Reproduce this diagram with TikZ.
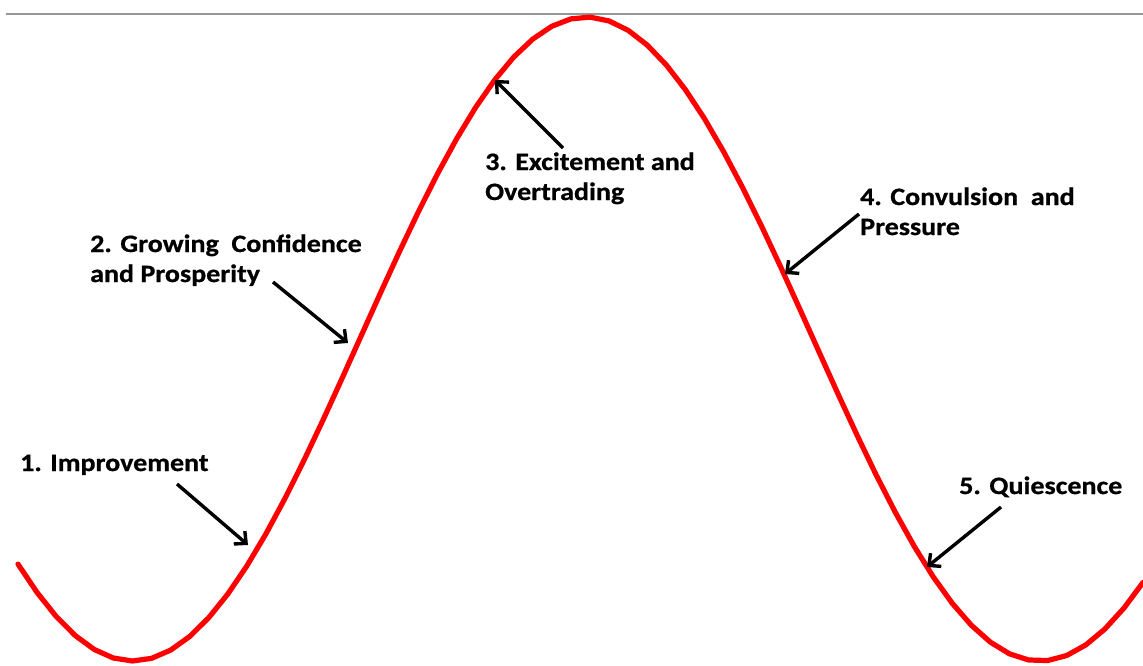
\documentclass[tikz,border=0pt]{standalone}
\usepackage{fontspec}
\setmainfont{Carlito}[FakeStretch=1.12, BoldFeatures={FakeBold=0.8}]
\usetikzlibrary{arrows.meta}
\definecolor{curvered}{RGB}{255,0,0}
\definecolor{rulegray}{RGB}{150,150,150}
\tikzset{
  lbl/.style={anchor=base west, align=left, inner sep=0pt, font=\bfseries\fontsize{25}{30}\selectfont},
  pointer/.style={draw=black, line width=3.4pt, -{Straight Barb[length=9pt,width=17pt,line width=3.4pt]}},
}
\begin{document}
\begin{tikzpicture}[x=1pt,y=-1pt]
\useasboundingbox (0,0) rectangle (1143,665);
\draw[rulegray, line width=1.6pt] (6,14) -- (1143,14);
\draw[curvered, line width=5.2pt, line join=round, line cap=round]
  plot[domain=18:1143, samples=60] (\x, {339+322*cos(0.396913*(\x-133))});
\node[lbl] (t1) at (20,471) {1. Improvement};
\node[lbl] (t2) at (90,282) {2. Growing\ \ Confidence\\and Prosperity};
\node[lbl] (t3) at (485,200) {3. Excitement and\\Overtrading};
\node[lbl] (t4) at (860,235) {4. Convulsion\ \ and\\Pressure};
\node[lbl] (t5) at (959,494) {5. Quiescence};
\coordinate (s1) at (177,484); \coordinate (e1) at (248,545);
\coordinate (s2) at (273,282); \coordinate (e2) at (348,343);
\coordinate (s3) at (563,148); \coordinate (e3) at (495,80);
\coordinate (s4) at (859,214); \coordinate (e4) at (785,274);
\coordinate (s5) at (1001,507); \coordinate (e5) at (927,567);
\draw[pointer] (s1) -- (e1);
\draw[pointer] (s2) -- (e2);
\draw[pointer] (s3) -- (e3);
\draw[pointer] (s4) -- (e4);
\draw[pointer] (s5) -- (e5);
\end{tikzpicture}
\end{document}
